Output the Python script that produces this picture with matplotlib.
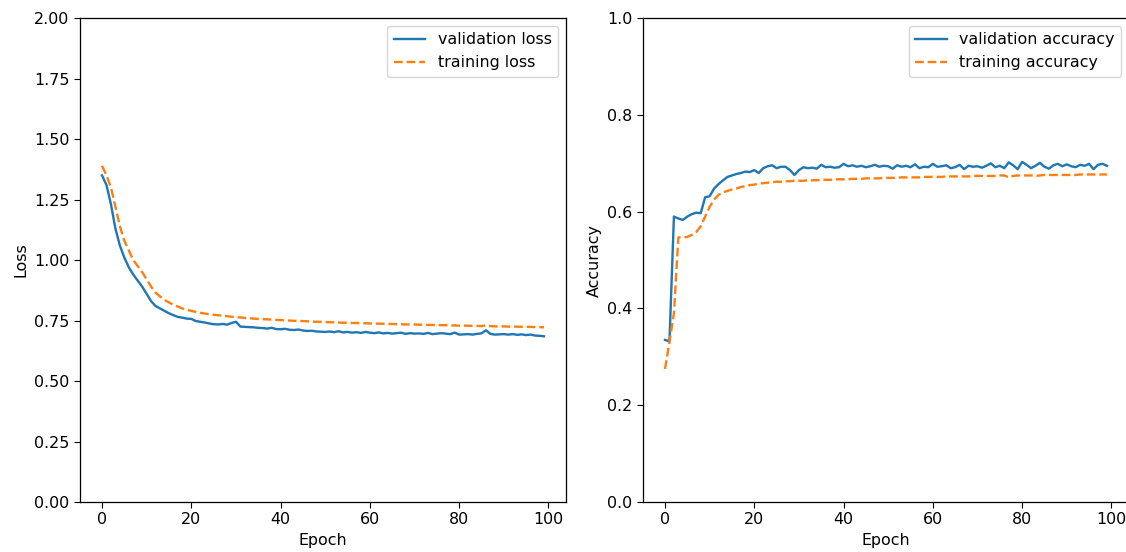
import matplotlib
matplotlib.use("Agg")
import matplotlib.pyplot as plt
import numpy as np

epochs = np.arange(100)

val_loss = [1.35, 1.31, 1.23, 1.13, 1.06, 1.01, 0.97, 0.94, 0.915, 0.89,
            0.86, 0.83, 0.81, 0.80, 0.79, 0.78, 0.772, 0.765, 0.762, 0.758,
            0.757, 0.748, 0.745, 0.742, 0.738, 0.735, 0.734, 0.736, 0.733, 0.74,
            0.745, 0.725, 0.724, 0.723, 0.722, 0.72, 0.719, 0.717, 0.72, 0.715,
            0.714, 0.716, 0.712, 0.711, 0.713, 0.709, 0.707, 0.708, 0.705, 0.704,
            0.703, 0.705, 0.702, 0.706, 0.701, 0.703, 0.7, 0.702, 0.699, 0.703,
            0.7, 0.698, 0.701, 0.697, 0.699, 0.696, 0.698, 0.7, 0.695, 0.698,
            0.696, 0.697, 0.695, 0.699, 0.694, 0.696, 0.698, 0.696, 0.694, 0.7,
            0.692, 0.693, 0.694, 0.692, 0.695, 0.697, 0.71, 0.695, 0.692, 0.693,
            0.694, 0.692, 0.694, 0.691, 0.693, 0.69, 0.692, 0.688, 0.687, 0.685]

train_loss = [1.39, 1.35, 1.30, 1.22, 1.14, 1.08, 1.04, 1.00, 0.975, 0.95,
              0.92, 0.89, 0.865, 0.85, 0.835, 0.825, 0.815, 0.808, 0.80, 0.795,
              0.79, 0.786, 0.782, 0.779, 0.776, 0.774, 0.772, 0.77, 0.768, 0.766,
              0.764, 0.763, 0.761, 0.76, 0.758, 0.757, 0.756, 0.755, 0.754, 0.753,
              0.752, 0.751, 0.75, 0.749, 0.748, 0.748, 0.747, 0.746, 0.745, 0.745,
              0.744, 0.743, 0.743, 0.742, 0.741, 0.741, 0.74, 0.74, 0.739, 0.739,
              0.738, 0.738, 0.737, 0.737, 0.736, 0.736, 0.735, 0.735, 0.734, 0.734,
              0.734, 0.733, 0.733, 0.732, 0.732, 0.731, 0.731, 0.731, 0.73, 0.73,
              0.729, 0.729, 0.729, 0.728, 0.728, 0.727, 0.73, 0.727, 0.726, 0.726,
              0.726, 0.725, 0.725, 0.725, 0.724, 0.724, 0.724, 0.723, 0.723, 0.722]

val_acc = [0.335, 0.332, 0.59, 0.586, 0.583, 0.59, 0.595, 0.598, 0.597, 0.63,
           0.632, 0.648, 0.657, 0.665, 0.672, 0.675, 0.678, 0.68, 0.683, 0.682,
           0.686, 0.68, 0.69, 0.694, 0.696, 0.69, 0.693, 0.693, 0.686, 0.676,
           0.686, 0.692, 0.69, 0.691, 0.689, 0.697, 0.692, 0.693, 0.691, 0.692,
           0.699, 0.694, 0.696, 0.693, 0.695, 0.692, 0.694, 0.697, 0.693, 0.695,
           0.694, 0.689, 0.696, 0.693, 0.695, 0.692, 0.698, 0.69, 0.693, 0.692,
           0.699, 0.693, 0.694, 0.696, 0.69, 0.692, 0.697, 0.688, 0.695, 0.693,
           0.694, 0.691, 0.695, 0.7, 0.692, 0.695, 0.69, 0.702, 0.696, 0.688,
           0.703, 0.697, 0.69, 0.695, 0.701, 0.693, 0.689, 0.696, 0.699, 0.694,
           0.698, 0.694, 0.692, 0.697, 0.695, 0.699, 0.688, 0.697, 0.699, 0.695]

train_acc = [0.275, 0.33, 0.39, 0.547, 0.547, 0.548, 0.552, 0.558, 0.57, 0.59,
             0.61, 0.625, 0.635, 0.64, 0.643, 0.646, 0.648, 0.651, 0.653, 0.655,
             0.656, 0.658, 0.659, 0.66, 0.661, 0.662, 0.662, 0.663, 0.663, 0.664,
             0.664, 0.664, 0.665, 0.665, 0.665, 0.666, 0.666, 0.666, 0.667, 0.667,
             0.667, 0.667, 0.668, 0.668, 0.668, 0.669, 0.669, 0.669, 0.669, 0.67,
             0.67, 0.67, 0.67, 0.671, 0.671, 0.671, 0.671, 0.671, 0.672, 0.672,
             0.672, 0.672, 0.672, 0.673, 0.673, 0.673, 0.673, 0.673, 0.673, 0.674,
             0.674, 0.674, 0.674, 0.674, 0.674, 0.675, 0.675, 0.671, 0.674, 0.675,
             0.675, 0.675, 0.675, 0.674, 0.675, 0.676, 0.676, 0.676, 0.676, 0.676,
             0.676, 0.676, 0.676, 0.677, 0.677, 0.677, 0.677, 0.677, 0.677, 0.677]

# the reference looks like a default mpl figure scaled up ~1.14x
s = 1.14
plt.rcParams["font.size"] = 10 * s
plt.rcParams["lines.linewidth"] = 1.5 * s
plt.rcParams["axes.linewidth"] = 0.8 * s
plt.rcParams["xtick.major.size"] = 3.5 * s
plt.rcParams["ytick.major.size"] = 3.5 * s

fig, (ax1, ax2) = plt.subplots(1, 2, figsize=(11.26, 5.52), dpi=100)
fig.subplots_adjust(left=0.071, right=1.0027, top=0.967, bottom=0.0906, wspace=0.158)

ax1.plot(epochs, val_loss, label="validation loss")
ax1.plot(epochs, train_loss, "--", label="training loss")
ax1.set_ylim(0, 2)
ax1.set_xlabel("Epoch")
ax1.set_ylabel("Loss")
ax1.legend(loc="upper right")

ax2.plot(epochs, val_acc, label="validation accuracy")
ax2.plot(epochs, train_acc, "--", label="training accuracy")
ax2.set_ylim(0, 1)
ax2.set_xlabel("Epoch")
ax2.set_ylabel("Accuracy")
ax2.legend(loc="upper right")

fig.savefig("out.png")
